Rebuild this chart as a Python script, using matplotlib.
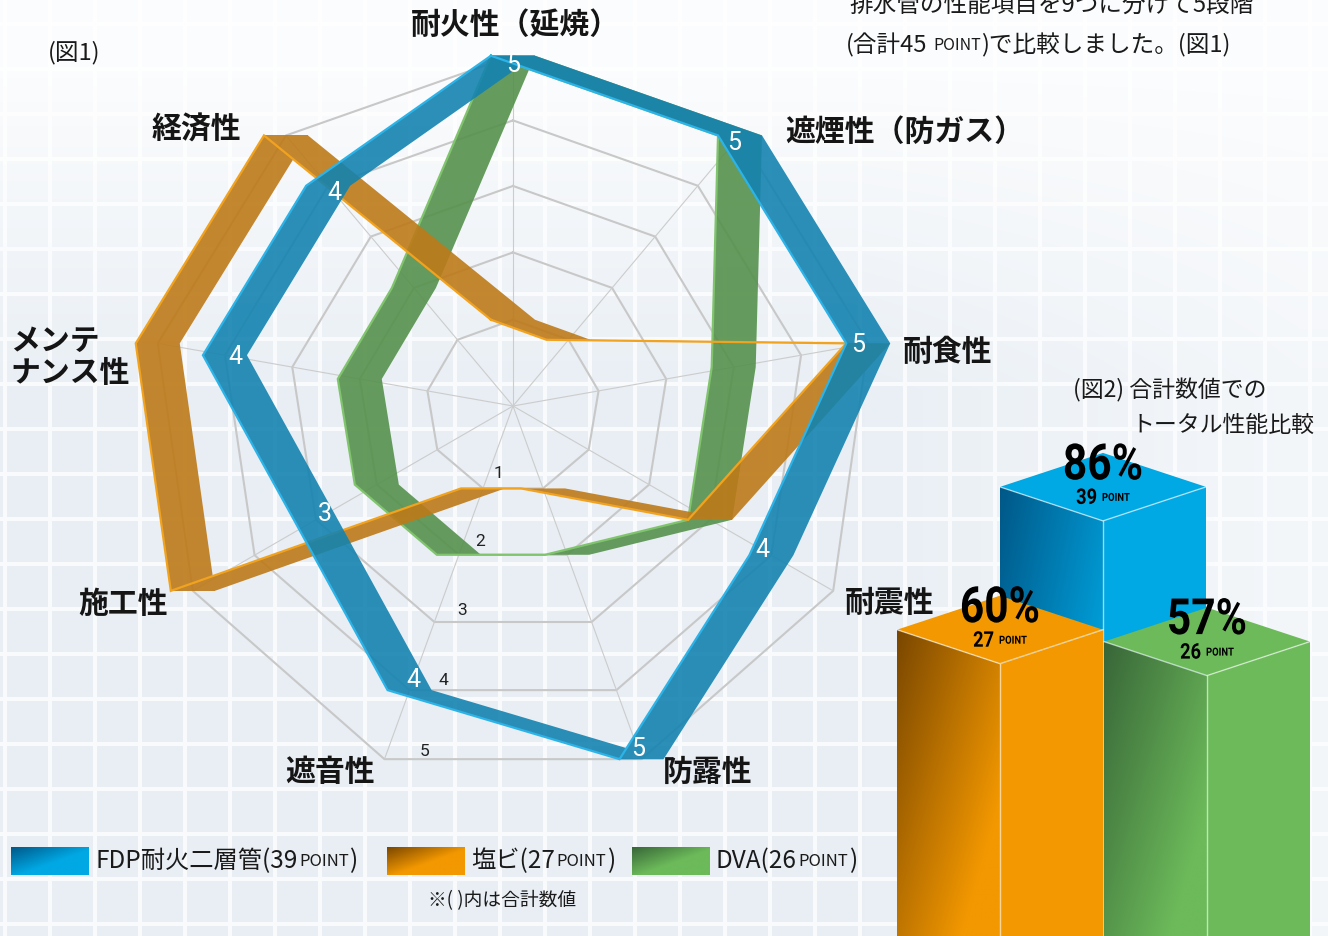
import numpy as np
import matplotlib
matplotlib.use("Agg")
import matplotlib.pyplot as plt
from matplotlib.patches import Polygon, PathPatch
from matplotlib.path import Path
from matplotlib.transforms import Affine2D
from matplotlib import patheffects
from matplotlib.colors import to_rgb

plt.rcParams['font.family'] = ['Noto Sans CJK JP', 'DejaVu Sans']

# ---- data ----
categories = ['耐火性（延焼）', '遮煙性（防ガス）', '耐食性', '耐震性', '防露性',
              '遮音性', '施工性', 'メンテ\nナンス性', '経済性']
fdp = [5, 5, 5, 4, 5, 4, 3, 4, 4]
pvc = [1, 1, 5, 3, 1, 1, 5, 5, 5]
dva = [5, 5, 3, 3, 2, 2, 2, 2, 2]
series_names = ['FDP耐火二層管', '塩ビ', 'DVA']
totals = [39, 27, 26]
percents = [86, 60, 57]
scale_ticks = [1, 2, 3, 4, 5]

# ---- look ----
fills = ['#1483b0', '#bd7a19', '#56914d']
edges = ['#2cb3e8', '#f1a21f', '#80c46e']
box_base = ['#00a8e4', '#f39800', '#6cba5a']
box_dark = ['#005888', '#7a4700', '#386638']

W, H = 1328, 936
fig = plt.figure(figsize=(W / 100, H / 100), dpi=100)
ax = fig.add_axes([0, 0, 1, 1])
ax.set_xlim(0, W)
ax.set_ylim(H, 0)
ax.axis('off')
renderer = fig.canvas.get_renderer()

# background: pale tiles with white joints
yy, xx = np.mgrid[0:H, 0:W]
amt = 0.08 + 0.5 * np.clip((yy - 60) / 330, 0, 1) * (1 - 0.55 * np.clip((xx - 850) / 450, 0, 1))
tile = np.array(to_rgb('#d9e3ed'))
bg = 1 - amt[..., None] * (1 - tile)
joint = (((xx - 3) % 45) < 4) | (((yy - 22) % 45) < 4)
bg[joint] = bg[joint] * 0.3 + 0.7
ax.imshow(bg, extent=(0, W, H, 0), zorder=0, aspect='auto', interpolation='bilinear')

# ---- radar geometry (slight perspective like the original) ----
CX, CY = 513, 406
R0, RS = 18, 69
PERSP = 1.0e-4
n = len(categories)
theta = np.arange(n) * 2 * np.pi / n


def proj_r(r, th):
    X = r * np.sin(th)
    V = -r * np.cos(th)
    den = 1 - PERSP * V
    return CX + X / den, CY + V / den


def proj(val, th):
    return proj_r(R0 + RS * np.asarray(val, float), th)


for v in scale_ticks:
    gx, gy = proj(np.full(n, v), theta)
    ax.plot(np.r_[gx, gx[0]], np.r_[gy, gy[0]], color='#c8c8c8', lw=1.5, zorder=2)
for th in theta:
    ex, ey = proj(scale_ticks[-1], th)
    ax.plot([CX, ex], [CY, ey], color='#cccccc', lw=0.8, zorder=2)

lab_th = np.deg2rad(195)
for v in scale_ticks:
    lx, ly = proj(v - 0.25, lab_th)
    ax.text(lx + 4, ly, str(v), fontsize=12.5, ha='center', va='center', color='#222222',
            family=['Roboto', 'DejaVu Sans'], zorder=3)

HW = 22


def ribbon(vals, fill, edge, z):
    x, y = proj(vals, theta)
    verts, codes = [], []
    for i in range(n):
        j = (i + 1) % n
        quad = [(x[i] - HW, y[i]), (x[j] - HW, y[j]), (x[j] + HW, y[j]), (x[i] + HW, y[i])]
        q = np.array(quad)
        area = np.sum(q[:, 0] * np.roll(q[:, 1], -1) - np.roll(q[:, 0], -1) * q[:, 1])
        if area < 0:
            quad = quad[::-1]
        verts += quad + [quad[0]]
        codes += [Path.MOVETO, Path.LINETO, Path.LINETO, Path.LINETO, Path.CLOSEPOLY]
    ax.add_patch(PathPatch(Path(verts, codes), fc=fill, ec='none', alpha=0.9, zorder=z))
    ax.plot(np.r_[x, x[0]] - HW, np.r_[y, y[0]], color=edge, lw=1.6, zorder=z + 0.1,
            solid_joinstyle='miter')
    return x, y


ribbon(dva, fills[2], edges[2], 3)
ribbon(pvc, fills[1], edges[1], 4)
ribbon(fdp, fills[0], edges[0], 5)

vx, vy = proj(np.array(fdp) - 0.15, theta)
for i in range(n):
    ax.text(vx[i], vy[i], str(fdp[i]), fontsize=18, color='white', ha='center', va='center',
            family=['Roboto', 'DejaVu Sans'], zorder=6)

# category labels (x, y, ha)
label_pos = [(515, 25, 'center'), (785, 132, 'left'), (903, 352, 'left'),
             (845, 603, 'left'), (663, 772, 'left'), (285, 772, 'left'),
             (78, 604, 'left'), (10, 357, 'left'), (152, 130, 'left')]
for name, (lx, ly, ha) in zip(categories, label_pos):
    ax.text(lx, ly, name, fontsize=21.5, weight='bold', ha=ha, va='center', color='#151515',
            linespacing=1.1, zorder=6)


# ---- helpers ----
class Squeeze(patheffects.AbstractPathEffect):
    def __init__(self, sx):
        super().__init__()
        self.sx = sx

    def draw_path(self, renderer, gc, tpath, affine, rgbFace=None):
        ext = tpath.get_extents()
        xm = (ext.x0 + ext.x1) / 2
        t = Affine2D().translate(-xm, 0).scale(self.sx, 1).translate(xm, 0) + affine
        renderer.draw_path(gc, tpath, t, rgbFace)


def put_runs(x, y, runs, ha='left', squeeze=1.0, **kw):
    texts, widths = [], []
    for s, fs in runs:
        if s == '':
            texts.append(None)
            widths.append(fs)
            continue
        t = ax.text(0, y, s, fontsize=fs, ha='center', va='center', **kw)
        if squeeze != 1.0:
            t.set_path_effects([Squeeze(squeeze)])
        texts.append(t)
        widths.append(t.get_window_extent(renderer).width * squeeze)
    left = x - sum(widths) / 2 if ha == 'center' else x
    for t, w in zip(texts, widths):
        if t is not None:
            t.set_x(left + w / 2)
        left += w
    return texts


def grad_patch(verts, c0, c1, z, reach=0.6):
    poly = Polygon(verts, closed=True, fc='none', ec='none', zorder=z)
    ax.add_patch(poly)
    xs = [p[0] for p in verts]
    ys = [p[1] for p in verts]
    gx, gy = np.meshgrid(np.linspace(0, 1, 80), np.linspace(0, 1, 80))
    t = np.clip((gx + gy) / (2 * reach), 0, 1)[..., None]
    img = (1 - t) * np.array(to_rgb(c0)) + t * np.array(to_rgb(c1))
    im = ax.imshow(img, extent=(min(xs), max(xs), max(ys), min(ys)), zorder=z,
                   interpolation='bilinear', aspect='auto')
    im.set_clip_path(poly)


# ---- 3D boxes (図2) ----
BOX_X = [1103, 1000, 1207]
BOX_HW, BOX_HD = 103, 34
BASE = 951
PX_PER_PT = 11.9
big = ['Roboto', 'DejaVu Sans']
for k, (bx, tot, pct) in enumerate(zip(BOX_X, totals, percents)):
    z = 8 if k == 0 else 9
    ty = BASE - tot * PX_PER_PT
    top = [(bx - BOX_HW, ty), (bx, ty - BOX_HD), (bx + BOX_HW, ty), (bx, ty + BOX_HD)]
    left = [(bx - BOX_HW, ty), (bx, ty + BOX_HD), (bx, BASE + BOX_HD), (bx - BOX_HW, BASE)]
    right = [(bx, ty + BOX_HD), (bx + BOX_HW, ty), (bx + BOX_HW, BASE), (bx, BASE + BOX_HD)]
    grad_patch(left, box_dark[k], box_base[k], z, reach=0.75)
    ax.add_patch(Polygon(right, closed=True, fc=box_base[k], ec='none', zorder=z))
    ax.add_patch(Polygon(top, closed=True, fc=box_base[k], ec='none', zorder=z))
    ax.plot([bx - BOX_HW, bx, bx + BOX_HW], [ty, ty + BOX_HD, ty], color='white', lw=1.0,
            alpha=0.6, zorder=z + 0.1)
    ax.plot([bx, bx], [ty + BOX_HD, BASE + BOX_HD], color='white', lw=1.0, alpha=0.6,
            zorder=z + 0.1)
    put_runs(bx, ty - 21, [(f'{pct}%', 36)], ha='center', squeeze=0.85,
             family=big, weight='bold', color='black', zorder=z + 0.2)
    put_runs(bx, ty + 11, [(str(tot), 15.5), ('', 5), ('POINT', 8)], ha='center', squeeze=0.85,
             family=big, weight='bold', color='black', zorder=z + 0.2)

# ---- legend ----
leg_x = [11, 387, 632]
for k in range(3):
    x0 = leg_x[k]
    grad_patch([(x0, 847), (x0 + 78, 847), (x0 + 78, 875), (x0, 875)],
               box_dark[k], box_base[k], 6, reach=0.55)
    put_runs(x0 + 84, 861, [(f'{series_names[k]}({totals[k]}', 17.5), ('', 2),
                            ('POINT', 12), (')', 17.5)], color='#1a1a1a', zorder=6)
ax.text(502, 901, '※( )内は合計数値', fontsize=13.5, ha='center', va='center', color='#1a1a1a')

# ---- notes ----
ax.text(48, 53, '(図1)', fontsize=17, ha='left', va='center', color='#1a1a1a')
ax.text(849, 6, f'排水管の性能項目を{n}つに分けて{len(scale_ticks)}段階', fontsize=17,
        ha='left', va='center', color='#1a1a1a')
put_runs(846, 45, [(f'(合計{n * len(scale_ticks)}', 17), ('', 6), ('POINT', 11.5),
                   (')で比較しました。(図1)', 17)], color='#1a1a1a')
ax.text(1073, 390, '(図2) 合計数値での', fontsize=16.5, ha='left', va='center', color='#1a1a1a')
ax.text(1131, 425, 'トータル性能比較', fontsize=16.5, ha='left', va='center', color='#1a1a1a')

ax.set_xlim(0, W)
ax.set_ylim(H, 0)
fig.savefig('out.png', dpi=100)
